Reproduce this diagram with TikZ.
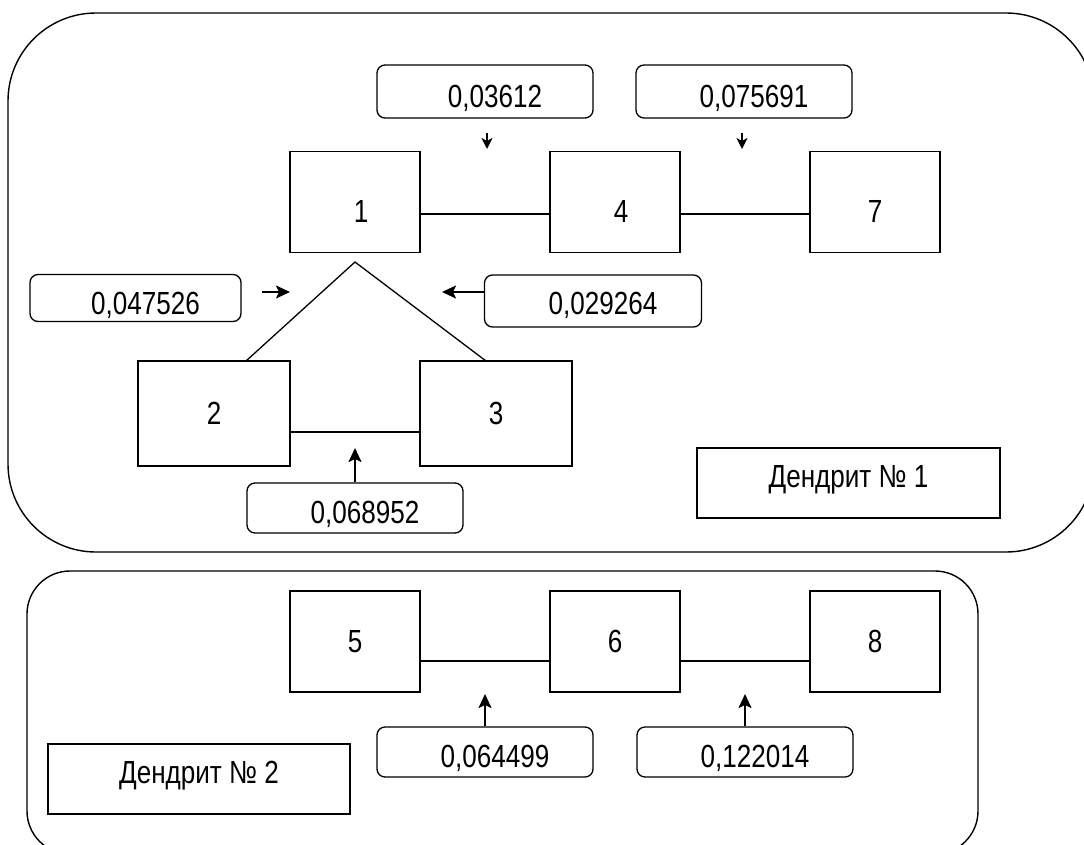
\documentclass[tikz,border=0pt]{standalone}
\usepackage{fontspec}
\setmainfont{Liberation Sans}[FakeStretch=0.815]
\usetikzlibrary{arrows.meta,calc}
\begin{document}
\begin{tikzpicture}[x=1pt,y=-1pt,
  txt/.style={font=\fontsize{32}{38}\selectfont},
  sq/.style={draw, line width=1.3pt, inner sep=0pt, txt, minimum width=130pt, minimum height=101pt},
  wide/.style={sq, minimum width=152pt, minimum height=105pt},
  lab/.style={draw, line width=1.3pt, rounded corners=8pt, inner sep=0pt, txt, minimum width=216pt, minimum height=50pt},
  tag/.style={draw, line width=1.3pt, inner sep=0pt, txt, minimum width=303pt, minimum height=70pt},
  th/.style={text height=#1, text depth=0pt},
  cont/.style={draw, line width=1.4pt},
  link/.style={line width=2pt},
  thin/.style={line width=1.3pt},
  arr/.style={line width=2pt, -{Stealth[length=14pt,width=13pt,inset=3pt]}},
  tiny/.style={line width=2pt, -{Stealth[length=11pt,width=11pt,inset=3pt]}}
]
\useasboundingbox (0,0) rectangle (1084,844);
\clip (0,0) rectangle (1084,844);
% containers
\draw[cont, rounded corners=88pt] (8,13) rectangle (1094,552);
\draw[cont, rounded corners=43pt] (27,571) rectangle (978,854);
% boxes
\node[sq, th=40.9pt] (b1) at (355,202) {\hspace*{12pt}1};
\node[sq, th=40.9pt] (b4) at (615,202) {\hspace*{12pt}4};
\node[sq, th=40.9pt] (b7) at (875,202) {7};
\node[wide] (b2) at (214,413.5) {2};
\node[wide] (b3) at (496,413.5) {3};
\node[sq] (b5) at (355,641.5) {5};
\node[sq] (b6) at (615,641.5) {6};
\node[sq] (b8) at (875,641.5) {8};
% labels
\node[lab, minimum height=53pt, th=31.9pt] (l1) at (485,91.5) {\hspace*{20pt}0,03612};
\node[lab, minimum height=53pt, th=31.9pt] (l2) at (744,91.5) {\hspace*{20pt}0,075691};
\node[lab, minimum width=211pt, minimum height=47pt, th=33.9pt] (l3) at (135.5,298) {\hspace*{20pt}0,047526};
\node[lab, minimum width=217pt, minimum height=52pt, th=27.9pt] (l4) at (593,301) {\hspace*{20pt}0,029264};
\node[lab, th=30.9pt] (l5) at (355,508) {\hspace*{20pt}0,068952};
\node[lab, th=30.9pt] (l6) at (485,752) {\hspace*{20pt}0,064499};
\node[lab, th=30.9pt] (l7) at (745,752) {\hspace*{20pt}0,122014};
\node[tag, th=9.9pt] (d1) at (848.5,483) {Дендрит № 1};
\node[tag, minimum width=302pt, th=8.9pt] (d2) at (199,779) {Дендрит № 2};
% links
\draw[link] ($(b1.east)+(0,12)$) -- ($(b4.west)+(0,12)$);
\draw[link] ($(b4.east)+(0,12)$) -- ($(b7.west)+(0,12)$);
\draw[link] ($(b2.east)+(0,18.5)$) -- ($(b3.west)+(0,18.5)$);
\draw[link] ($(b5.east)+(0,19.5)$) -- ($(b6.west)+(0,19.5)$);
\draw[link] ($(b6.east)+(0,19.5)$) -- ($(b8.west)+(0,19.5)$);
% triangle
\coordinate (apex) at (355,262);
\coordinate (tl) at (246,361);
\coordinate (tr) at (486,361);
\draw[thin] (tl) -- (apex) -- (tr);
% arrows
\coordinate (a1s) at (487,133); \coordinate (a1e) at (487,149);
\coordinate (a2s) at (742,133); \coordinate (a2e) at (742,149);
\draw[tiny] (a1s) -- (a1e);
\draw[tiny] (a2s) -- (a2e);
\coordinate (a3s) at (262,292); \coordinate (a3e) at (290,292);
\draw[arr] (a3s) -- (a3e);
\coordinate (a4e) at (442,292);
\draw[arr] ($(l4.west)+(0,-9)$) -- (a4e);
\coordinate (a5e) at (355,448);
\draw[arr] (l5.north) -- (a5e);
\coordinate (a6e) at (485,694);
\draw[arr] (l6.north) -- (a6e);
\coordinate (a7e) at (745,694);
\draw[arr] (l7.north) -- (a7e);
\end{tikzpicture}
\end{document}
